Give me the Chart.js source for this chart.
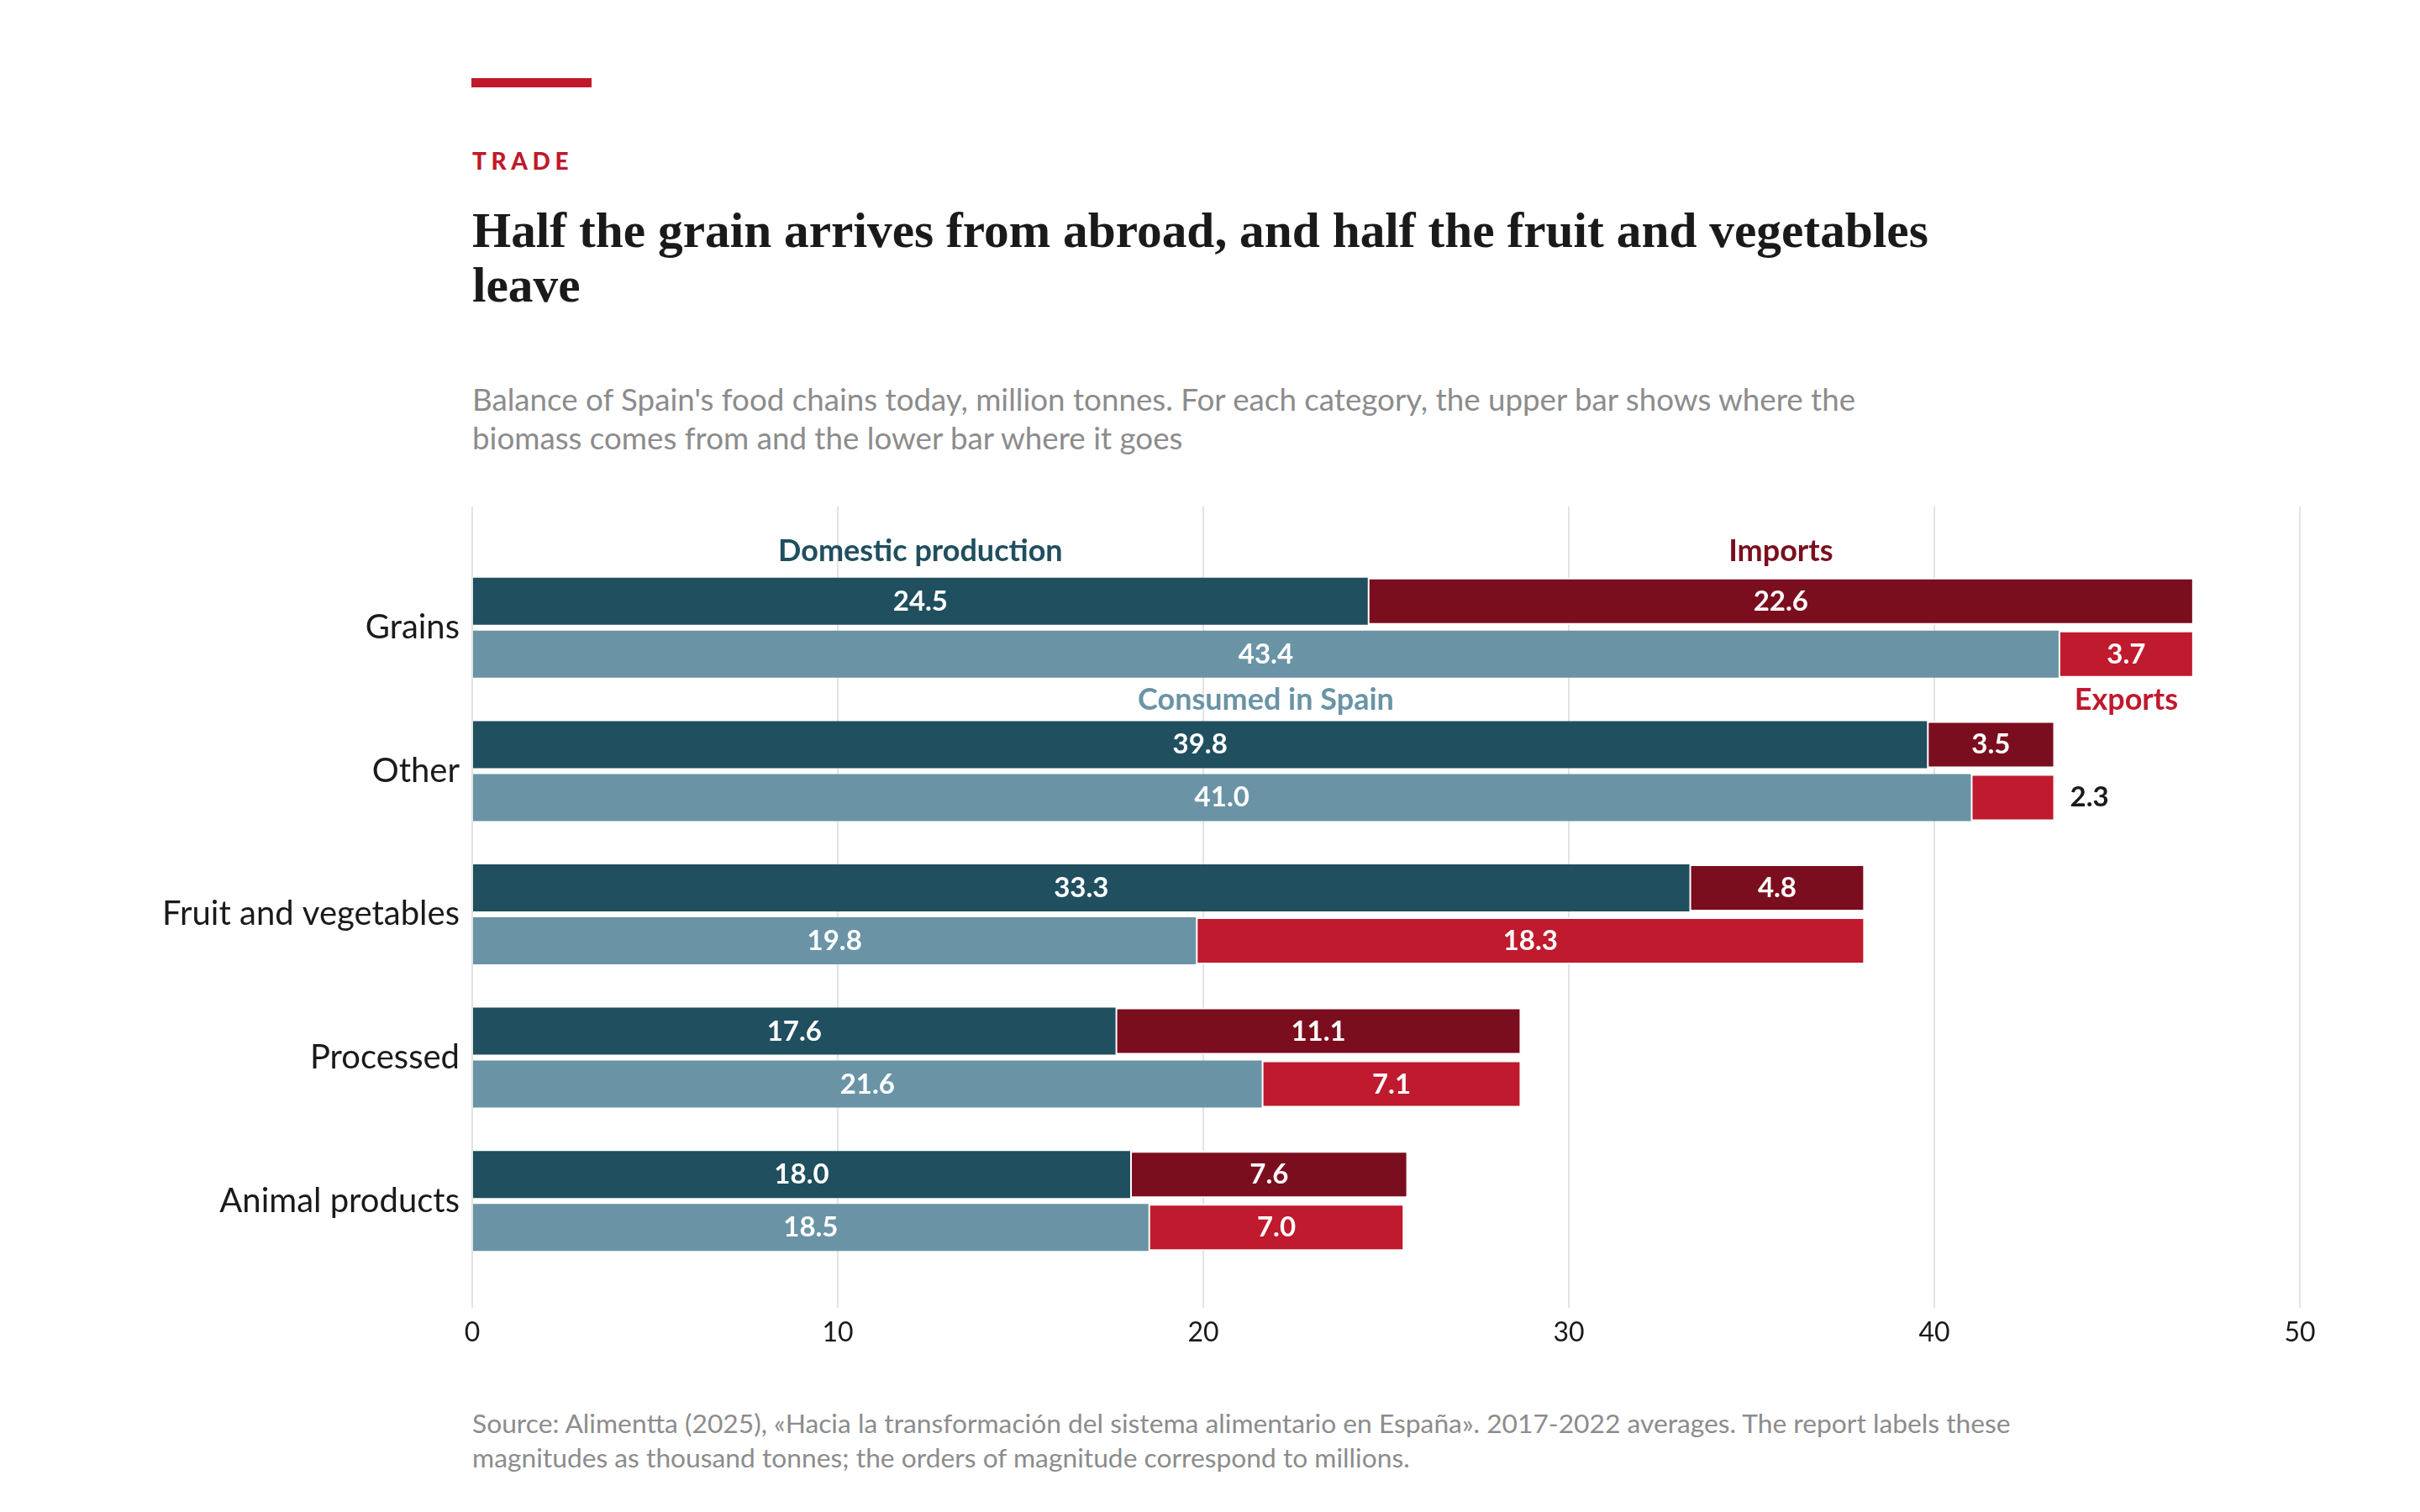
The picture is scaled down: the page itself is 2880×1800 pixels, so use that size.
<!DOCTYPE html>
<html>
<head>
<meta charset="utf-8">
<script src="https://cdn.jsdelivr.net/npm/chart.js@4.4.1/dist/chart.umd.min.js"></script>
<style>
html,body{margin:0;padding:0;background:#fff;}
body{width:2880px;height:1800px;position:relative;overflow:hidden;font-family:Lato,sans-serif;}
.abs{position:absolute;left:562px;white-space:nowrap;}
#accent{position:absolute;left:561px;top:93px;width:143px;height:11px;background:#c0192c;}
#kicker{top:177px;font-weight:900;font-size:28px;line-height:28px;letter-spacing:0.2em;color:#c0192c;}
#title{top:242px;font-family:"Liberation Serif",serif;font-weight:700;font-size:59px;line-height:65px;color:#1a1a1a;}
#subtitle{top:452px;font-size:34px;line-height:46px;color:#8c8c8c;}
#source{top:1674px;font-size:29px;line-height:41px;color:#8c8c8c;}
#wrap{position:absolute;left:0;top:603px;width:2880px;height:1037px;}
</style>
</head>
<body>
<div id="accent"></div>
<div id="kicker" class="abs">TRADE</div>
<div id="title" class="abs fit" data-w="1733"><span class="l1">Half the grain arrives from abroad, and half the fruit and vegetables</span><br><span>leave</span></div>
<div id="subtitle" class="abs fit" data-w="1646"><span class="l1">Balance of Spain's food chains today, million tonnes. For each category, the upper bar shows where the</span><br><span>biomass comes from and the lower bar where it goes</span></div>
<div id="wrap"><canvas id="chart" width="2880" height="1037"></canvas></div>
<div id="source" class="abs fit" data-w="1831"><span class="l1">Source: Alimentta (2025), «Hacia la transformación del sistema alimentario en España». 2017-2022 averages. The report labels these</span><br><span>magnitudes as thousand tonnes; the orders of magnitude correspond to millions.</span></div>
<script>
// ---- data ----
const categories = ["Grains", "Other", "Fruit and vegetables", "Processed", "Animal products"];
const seriesNames = ["Domestic production", "Imports", "Consumed in Spain", "Exports"];
const domestic = [24.5, 39.8, 33.3, 17.6, 18.0];
const imports  = [22.6, 3.5, 4.8, 11.1, 7.6];
const consumed = [43.4, 41.0, 19.8, 21.6, 18.5];
const exportsV = [3.7, 2.3, 18.3, 7.1, 7.0];
const xTicks   = [0, 10, 20, 30, 40, 50];

const COLORS = {dom:'#204f5f', imp:'#7b0e1e', con:'#6a94a6', exp:'#bf1a2d', grid:'#e3e3e3', ink:'#1a1a1a'};

// fit header text widths
document.querySelectorAll('.fit').forEach(el=>{
  const target = parseFloat(el.dataset.w);
  const span = el.querySelector('.l1');
  const w = span.getBoundingClientRect().width;
  const fs = parseFloat(getComputedStyle(el).fontSize);
  if (w > 0) el.style.fontSize = (fs*target/w).toFixed(2)+'px';
});

Chart.defaults.font.family = 'Lato';

const labelPlugin = {
  id: 'barLabels',
  afterDatasetsDraw(chart){
    const ctx = chart.ctx;
    ctx.save();
    ctx.textBaseline = 'alphabetic';
    chart.data.datasets.forEach((ds, i)=>{
      const meta = chart.getDatasetMeta(i);
      meta.data.forEach((el, j)=>{
        const v = ds.data[j];
        const txt = v.toFixed(1);
        const p = el.getProps(['x','y','base','height'], true);
        const w = Math.abs(p.x - p.base);
        ctx.font = '700 33px Lato';
        const tw = ctx.measureText(txt).width;
        if (w < tw + 70){
          ctx.fillStyle = COLORS.ink; ctx.textAlign = 'left';
          ctx.fillText(txt, p.x + 18, p.y + 11);
        } else {
          ctx.fillStyle = '#fff'; ctx.textAlign = 'center';
          ctx.fillText(txt, (p.x + p.base)/2, p.y + 11);
        }
      });
    });
    // series name labels on first category
    const nameColors = [COLORS.dom, COLORS.imp, COLORS.con, COLORS.exp];
    ctx.font = '700 36px Lato';
    ctx.textAlign = 'center';
    chart.data.datasets.forEach((ds, i)=>{
      const el = chart.getDatasetMeta(i).data[0];
      const p = el.getProps(['x','y','base','height'], true);
      const cx = (p.x + p.base)/2;
      const y = (i < 2) ? (p.y - p.height/2 - 20) : (p.y + p.height/2 + 38);
      ctx.fillStyle = nameColors[i];
      ctx.fillText(ds.label, cx, y);
    });
    ctx.restore();
  }
};

const setTicks = s => { s.ticks = xTicks.map(v=>({value:v})); };

new Chart(document.getElementById('chart'), {
  type: 'bar',
  data: {
    labels: categories,
    datasets: [
      {label: seriesNames[0], data: domestic, stack: 'source', backgroundColor: COLORS.dom, borderWidth: 0},
      {label: seriesNames[1], data: imports, stack: 'source', backgroundColor: COLORS.imp, borderColor: '#fff', borderWidth: 2, borderSkipped: false},
      {label: seriesNames[2], data: consumed, stack: 'use', backgroundColor: COLORS.con, borderWidth: 0},
      {label: seriesNames[3], data: exportsV, stack: 'use', backgroundColor: COLORS.exp, borderColor: '#fff', borderWidth: 2, borderSkipped: false}
    ]
  },
  options: {
    indexAxis: 'y',
    responsive: false,
    animation: false,
    layout: {padding: {left: 0, right: 143, top: 0, bottom: 0}},
    datasets: {bar: {categoryPercentage: 0.7386, barPercentage: 0.889}},
    plugins: {legend: {display: false}, tooltip: {enabled: false}},
    scales: {
      x: {
        type: 'linear', position: 'bottom', stacked: true, min: 0, max: 50,
        afterBuildTicks: setTicks,
        grid: {color: COLORS.grid, lineWidth: 2, drawTicks: true, tickLength: 42, tickColor: COLORS.grid},
        border: {display: false},
        ticks: {padding: 10, color: COLORS.ink, font: {family: 'Lato', size: 32}},
        afterFit: s => { s.height = 125; }
      },
      x2: {
        type: 'linear', position: 'top', min: 0, max: 50,
        afterBuildTicks: setTicks,
        grid: {color: COLORS.grid, lineWidth: 2, drawOnChartArea: false, drawTicks: true, tickLength: 59, tickColor: COLORS.grid},
        border: {display: false},
        ticks: {display: false},
        afterFit: s => { s.height = 59; }
      },
      y: {
        type: 'category',
        grid: {display: false, drawTicks: false},
        border: {display: false},
        ticks: {padding: 15, color: COLORS.ink, font: {family: 'Lato', size: 40}},
        afterFit: s => { s.width = 562; }
      }
    }
  },
  plugins: [labelPlugin]
});
</script>
</body>
</html>
